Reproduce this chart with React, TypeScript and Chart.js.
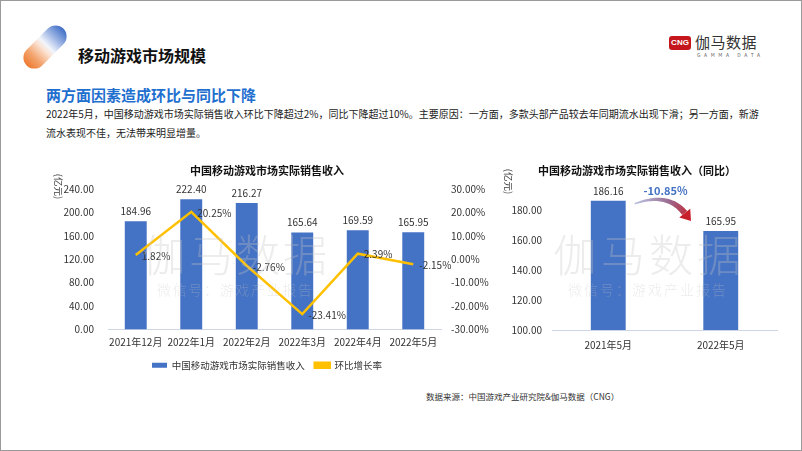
import React, { useEffect, useRef } from 'react';
import { Chart, registerables } from 'chart.js';

Chart.register(...registerables);

const FONT = '"Noto Sans CJK SC", "Noto Sans", sans-serif';

// ---- data ----
const months = ['2021年12月', '2022年1月', '2022年2月', '2022年3月', '2022年4月', '2022年5月'];
const revenue = [184.96, 222.4, 216.27, 165.64, 169.59, 165.95];
const momGrowth = [1.82, 20.25, -2.76, -23.41, 2.39, -2.15];
const revenueAxis = [0, 240, 40]; // min, max, step
const growthAxis = [-30, 30, 10];

const yoyMonths = ['2021年5月', '2022年5月'];
const yoyRevenue = [186.16, 165.95];
const yoyAxis = [100, 190, 20];
const yoyChangeLabel = '-10.85%';

const BAR_BLUE = '#4472C4';
const LINE_GOLD = '#FFC000';
const TXT = '#333333';

// ---- plugins ----
const valueLabels = {
  id: 'valueLabels',
  afterDatasetsDraw(chart: any) {
    const ctx = chart.ctx;
    ctx.save();
    ctx.font = `10px ${FONT}`;
    ctx.fillStyle = TXT;
    chart.data.datasets.forEach((ds: any, i: number) => {
      const meta = chart.getDatasetMeta(i);
      meta.data.forEach((el: any, j: number) => {
        const v = ds.data[j];
        ctx.textBaseline = 'middle';
        if (meta.type === 'bar') {
          ctx.textAlign = 'center';
          ctx.fillText(v.toFixed(2), el.x, el.y - 10);
        } else {
          ctx.textAlign = 'left';
          ctx.fillText(v.toFixed(2) + '%', el.x + 6, el.y + 1);
        }
      });
    });
    ctx.restore();
  },
};

const decor = {
  id: 'decor',
  afterDraw(chart: any, _args: any, opts: any) {
    const ctx = chart.ctx;
    const area = chart.chartArea;
    ctx.save();
    ctx.font = `9.5px ${FONT}`;
    ctx.fillStyle = '#404040';
    ctx.translate(area.left + opts.unitDx, area.top + opts.unitDy);
    ctx.rotate(Math.PI / 2);
    ctx.textAlign = 'center';
    ctx.textBaseline = 'middle';
    ctx.fillText('(亿元)', 0, 0);
    ctx.restore();

    // watermark
    ctx.save();
    ctx.fillStyle = 'rgba(195,195,195,0.32)';
    ctx.textAlign = 'center';
    ctx.textBaseline = 'middle';
    const big = '伽马数据';
    ctx.font = `300 44px ${FONT}`;
    for (let i = 0; i < big.length; i++) {
      ctx.fillText(big[i], opts.wmX + opts.wmPitch * i, opts.wmY);
    }
    const small = '微信号：游戏产业报告';
    ctx.font = `300 14px ${FONT}`;
    const sp = (opts.wmPitch * 3) / (small.length - 1);
    for (let i = 0; i < small.length; i++) {
      ctx.fillText(small[i], opts.wmX + sp * i, opts.wmY + 35);
    }
    ctx.restore();
  },
};

const yoyArrow = {
  id: 'yoyArrow',
  afterDraw(chart: any) {
    const ctx = chart.ctx;
    const meta = chart.getDatasetMeta(0);
    const b0 = meta.data[0];
    const b1 = meta.data[1];
    if (!b0 || !b1) return;
    const sx = b0.x + b0.width / 2 + 9;
    const sy = b0.y + 3;
    const ex = b1.x - 36;
    const ey = b1.y - 18;
    const cx = (sx + ex) / 2 + 8;
    const cy = Math.min(sy, ey) - 12;
    const pts: number[][] = [];
    const N = 30;
    for (let k = 0; k <= N; k++) {
      const t = k / N;
      const x = (1 - t) * (1 - t) * sx + 2 * (1 - t) * t * cx + t * t * ex;
      const y = (1 - t) * (1 - t) * sy + 2 * (1 - t) * t * cy + t * t * ey;
      const dx = 2 * (1 - t) * (cx - sx) + 2 * t * (ex - cx);
      const dy = 2 * (1 - t) * (cy - sy) + 2 * t * (ey - cy);
      const len = Math.hypot(dx, dy) || 1;
      pts.push([x, y, -dy / len, dx / len, 0.8 + 2.4 * t]);
    }
    const grad = ctx.createLinearGradient(sx, sy, ex + 6, ey + 8);
    grad.addColorStop(0, 'rgba(176,186,222,0.9)');
    grad.addColorStop(0.55, '#9a6a8e');
    grad.addColorStop(1, '#c8202a');
    ctx.save();
    ctx.fillStyle = grad;
    ctx.beginPath();
    pts.forEach((p, k) => {
      const x = p[0] + p[2] * p[4];
      const y = p[1] + p[3] * p[4];
      if (k === 0) ctx.moveTo(x, y);
      else ctx.lineTo(x, y);
    });
    for (let k = pts.length - 1; k >= 0; k--) {
      const p = pts[k];
      ctx.lineTo(p[0] - p[2] * p[4], p[1] - p[3] * p[4]);
    }
    ctx.closePath();
    ctx.fill();
    const dx = ex - cx;
    const dy = ey - cy;
    const len = Math.hypot(dx, dy);
    const ux = dx / len;
    const uy = dy / len;
    const tx = ex + ux * 10;
    const ty = ey + uy * 10;
    ctx.beginPath();
    ctx.moveTo(tx, ty);
    ctx.lineTo(ex - uy * 7, ey + ux * 7);
    ctx.lineTo(ex + uy * 7, ey - ux * 7);
    ctx.closePath();
    ctx.fillStyle = '#c8202a';
    ctx.fill();
    ctx.font = `bold 11px ${FONT}`;
    ctx.fillStyle = BAR_BLUE;
    ctx.textAlign = 'center';
    ctx.textBaseline = 'middle';
    const yTop = chart.scales.y.getPixelForValue(yoyRevenue[0]);
    ctx.fillText(yoyChangeLabel, (b0.x + b1.x) / 2 + 1, yTop - 10);
    ctx.restore();
  },
};

function LeftChart() {
  const ref = useRef<HTMLCanvasElement>(null);
  useEffect(() => {
    const chart = new Chart(ref.current!, {
      type: 'bar',
      data: {
        labels: months,
        datasets: [
          {
            type: 'line',
            label: '环比增长率',
            data: momGrowth,
            borderColor: LINE_GOLD,
            backgroundColor: LINE_GOLD,
            borderWidth: 2.5,
            pointRadius: 0,
            tension: 0,
            yAxisID: 'y1',
            order: 1,
          } as any,
          {
            type: 'bar',
            label: '中国移动游戏市场实际销售收入',
            data: revenue,
            backgroundColor: BAR_BLUE,
            categoryPercentage: 0.5,
            barPercentage: 0.79,
            yAxisID: 'y',
            order: 2,
          },
        ],
      },
      options: {
        animation: false,
        responsive: false,
        events: [],
        layout: { padding: 0 },
        scales: {
          x: {
            grid: { display: false, drawTicks: false },
            border: { display: true, color: '#cdd6e6', width: 1 },
            ticks: { font: { family: FONT, size: 10 }, color: TXT, padding: 7, maxRotation: 0, autoSkip: false },
            afterFit: (s: any) => { s.height = 21; },
          },
          y: {
            position: 'left',
            min: revenueAxis[0],
            max: revenueAxis[1],
            grid: { display: false, drawTicks: false },
            border: { display: false },
            ticks: {
              stepSize: revenueAxis[2],
              font: { family: FONT, size: 10 },
              color: TXT,
              padding: 14,
              callback: (v: any) => Number(v).toFixed(2),
            },
            afterFit: (s: any) => { s.width = 71; },
          },
          y1: {
            position: 'right',
            min: growthAxis[0],
            max: growthAxis[1],
            grid: { display: false, drawTicks: false },
            border: { display: false },
            ticks: {
              stepSize: growthAxis[2],
              font: { family: FONT, size: 10 },
              color: TXT,
              padding: 10,
              callback: (v: any) => Number(v).toFixed(2) + '%',
            },
            afterFit: (s: any) => { s.width = 56; },
          },
        },
        plugins: {
          title: {
            display: true,
            text: '中国移动游戏市场实际销售收入',
            font: { family: FONT, size: 11, weight: 'bold' },
            color: '#111111',
            padding: { top: 8.5, bottom: 11.3 },
          },
          legend: {
            display: true,
            position: 'bottom',
            reverse: true,
            labels: {
              boxWidth: 15,
              boxHeight: 5,
              font: { family: FONT, size: 9.5 },
              color: TXT,
              padding: 10,
            },
          },
          tooltip: { enabled: false },
          decor: { unitDx: -49.5, unitDy: -2.5, wmX: 127, wmPitch: 47, wmY: 99 },
        } as any,
      },
      plugins: [valueLabels, decor],
    });
    return () => chart.destroy();
  }, []);
  return <canvas ref={ref} width={460} height={224} style={{ position: 'absolute', left: 36, top: 155, width: 460, height: 224 }} />;
}

function RightChart() {
  const ref = useRef<HTMLCanvasElement>(null);
  useEffect(() => {
    const chart = new Chart(ref.current!, {
      type: 'bar',
      data: {
        labels: yoyMonths,
        datasets: [
          {
            label: '中国移动游戏市场实际销售收入',
            data: yoyRevenue,
            backgroundColor: BAR_BLUE,
            categoryPercentage: 0.5,
            barPercentage: 0.62,
          },
        ],
      },
      options: {
        animation: false,
        responsive: false,
        events: [],
        layout: { padding: { left: 0, right: 10, top: 0, bottom: 9 } },
        scales: {
          x: {
            grid: { display: false, drawTicks: false },
            border: { display: true, color: '#cdd6e6', width: 1 },
            ticks: { font: { family: FONT, size: 10 }, color: TXT, padding: 9, maxRotation: 0 },
            afterFit: (s: any) => { s.height = 22; },
          },
          y: {
            min: yoyAxis[0],
            max: yoyAxis[1],
            grid: { display: false, drawTicks: false },
            border: { display: false },
            ticks: {
              stepSize: yoyAxis[2],
              font: { family: FONT, size: 10 },
              color: TXT,
              padding: 10,
              callback: (v: any) => (Number(v) % yoyAxis[2] === 0 ? Number(v).toFixed(2) : ''),
            },
            afterFit: (s: any) => { s.width = 55; },
          },
        },
        plugins: {
          title: {
            display: true,
            text: '中国移动游戏市场实际销售收入（同比）',
            font: { family: FONT, size: 11, weight: 'bold' },
            color: '#111111',
            padding: { top: 8.5, bottom: 17.3 },
          },
          legend: { display: false },
          tooltip: { enabled: false },
          decor: { unitDx: -43.5, unitDy: -13.5, wmX: 78, wmPitch: 48, wmY: 99 },
        } as any,
      },
      plugins: [valueLabels, decor, yoyArrow],
    });
    return () => chart.destroy();
  }, []);
  return <canvas ref={ref} width={290} height={205} style={{ position: 'absolute', left: 496, top: 155, width: 290, height: 205 }} />;
}

export default function App() {
  return (
    <div
      style={{
        position: 'fixed',
        left: 0,
        top: 0,
        width: 802,
        height: 451,
        background: '#ffffff',
        border: '1px solid #9a9a9a',
        boxSizing: 'border-box',
        overflow: 'hidden',
        fontFamily: FONT,
      }}
    >
      {/* logo capsule */}
      <div
        style={{
          position: 'absolute',
          left: 33,
          top: 20,
          width: 22,
          height: 52,
          borderRadius: 11,
          transform: 'rotate(45deg)',
          background: 'linear-gradient(to top, #ee7a30 0%, #f3a46e 22%, #fbe3d3 45%, #f2f5fc 55%, #9fb6e4 75%, #3f6dc7 100%)',
        }}
      />
      <div style={{ position: 'absolute', left: 77, top: 45, fontSize: 16, lineHeight: '18px', fontWeight: 700, color: '#111' }}>
        移动游戏市场规模
      </div>
      {/* brand */}
      <div
        style={{
          position: 'absolute',
          left: 668,
          top: 35,
          width: 22,
          height: 14,
          background: '#c4161c',
          borderRadius: 3,
          color: '#fff',
          fontSize: 8,
          fontWeight: 700,
          lineHeight: '14px',
          textAlign: 'center',
          fontFamily: '"Liberation Sans", sans-serif',
        }}
      >
        CNG
      </div>
      <div style={{ position: 'absolute', left: 694, top: 32, fontSize: 15, lineHeight: '18px', color: '#333', letterSpacing: 0.5 }}>伽马数据</div>
      <div style={{ position: 'absolute', left: 696, top: 51, fontSize: 5, lineHeight: '6px', color: '#666', letterSpacing: 3.6 }}>GAMMA DATA</div>

      <div style={{ position: 'absolute', left: 45, top: 85, fontSize: 15, lineHeight: '18px', fontWeight: 700, color: '#1f6fcf' }}>
        两方面因素造成环比与同比下降
      </div>
      <div style={{ position: 'absolute', left: 45, top: 103, fontSize: 10, lineHeight: '19px', color: '#222', whiteSpace: 'nowrap' }}>
        2022年5月，中国移动游戏市场实际销售收入环比下降超过2%，同比下降超过10%。主要原因：一方面，多款头部产品较去年同期流水出现下滑；另一方面，新游
        <br />
        流水表现不佳，无法带来明显增量。
      </div>

      <LeftChart />
      <RightChart />

      <div style={{ position: 'absolute', left: 425, top: 389, fontSize: 8.5, lineHeight: '12px', color: '#333', whiteSpace: 'nowrap' }}>
        数据来源：中国游戏产业研究院&amp;伽马数据（CNG）
      </div>
    </div>
  );
}
